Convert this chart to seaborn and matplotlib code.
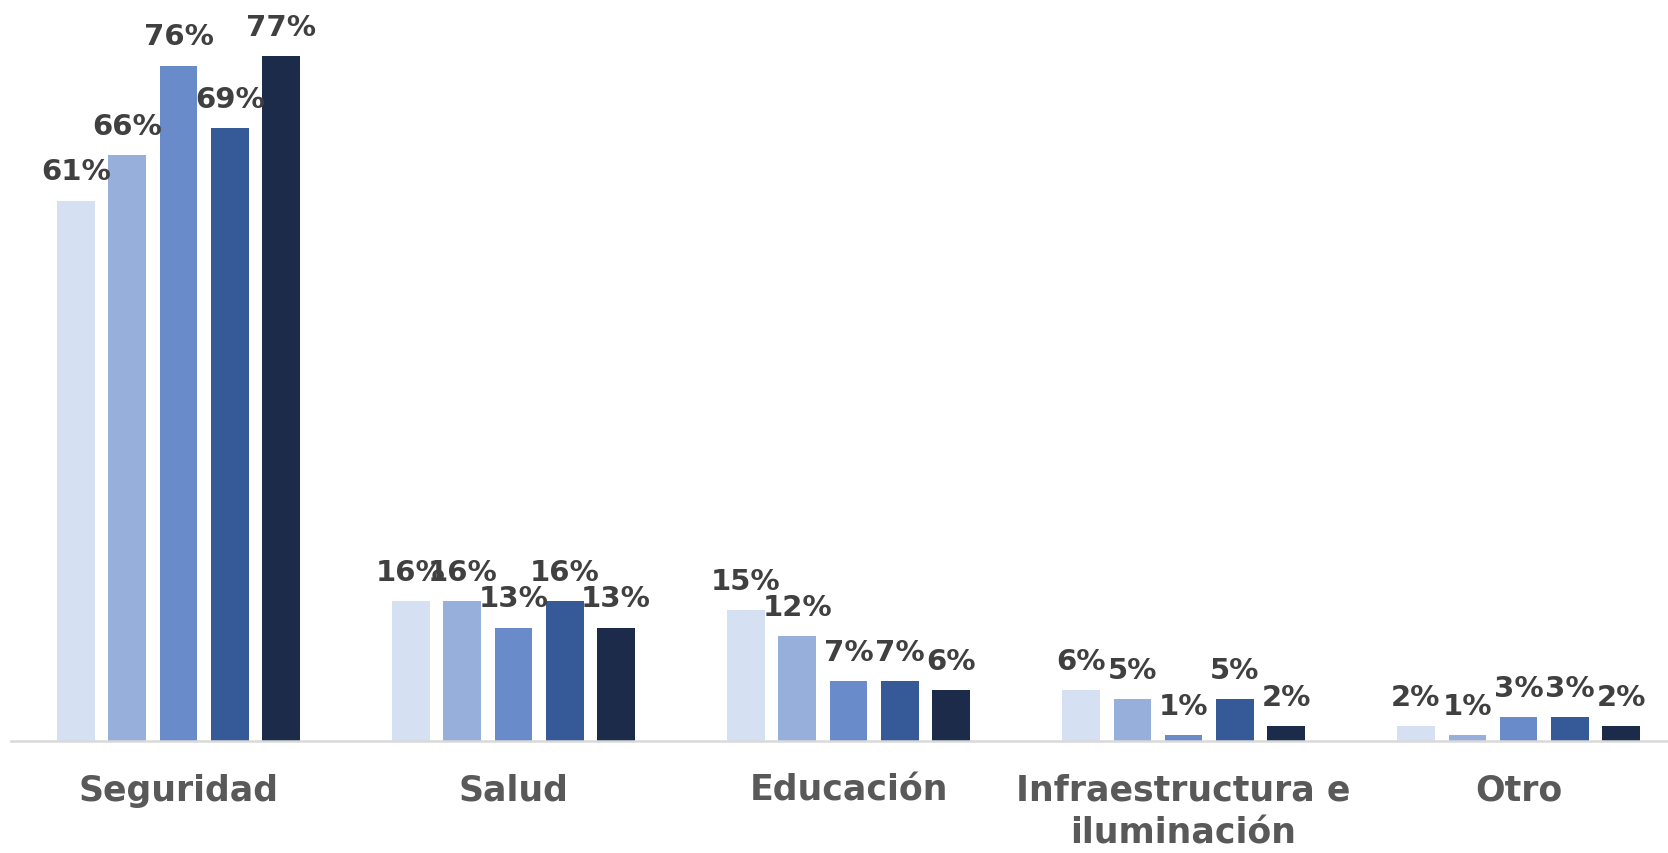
import numpy as np
import pandas as pd
import matplotlib
matplotlib.use("Agg")
import matplotlib.pyplot as plt
import seaborn as sns

# Data (in %)
categories = ['Seguridad', 'Salud', 'Educación', 'Infraestructura e\niluminación', 'Otro']
series = ['Serie 1', 'Serie 2', 'Serie 3', 'Serie 4', 'Serie 5']
serie_1 = [60.8, 15.75, 14.7, 5.7, 1.65]
serie_2 = [65.9, 15.75, 11.8, 4.7, 0.64]
serie_3 = [76.0, 12.75, 6.7, 0.64, 2.67]
serie_4 = [69.0, 15.75, 6.7, 4.7, 2.67]
serie_5 = [77.05, 12.75, 5.7, 1.65, 1.65]
colors = ['#D5E1F3', '#97AFDB', '#6A8BC9', '#365A98', '#1C2B4A']

values = [serie_1, serie_2, serie_3, serie_4, serie_5]
rows = []
for s, vals in zip(series, values):
    for c, v in zip(categories, vals):
        rows.append({'categoria': c, 'serie': s, 'valor': v})
df = pd.DataFrame(rows)

sns.set_style('white')
plt.rcParams['font.family'] = ['DejaVu Sans']

fig = plt.figure(figsize=(16.68, 8.54), dpi=100)
ax = fig.add_axes([11 / 1668, 112 / 854, 1 - 11 / 1668, 742 / 854])

sns.barplot(data=df, x='categoria', y='valor', hue='serie', order=categories,
            hue_order=series, palette=colors, saturation=1, width=0.766, gap=0.27,
            linewidth=0, legend=False, ax=ax, errorbar=None)

# etiquetas de valor sobre cada barra
for cont in ax.containers:
    ax.bar_label(cont, labels=[f'{v:.0f}%' for v in cont.datavalues],
                 padding=11, fontsize=21, fontweight='bold', color='#404040')

ax.set_xlim(-0.5, 4.446)
ax.set_ylim(0, 83.5)
ax.set_xlabel('')
ax.set_ylabel('')
ax.set_yticks([])
ax.tick_params(axis='x', length=0, pad=23)
for lbl in ax.get_xticklabels():
    lbl.set_fontsize(25)
    lbl.set_fontweight('bold')
    lbl.set_color('#595959')
    lbl.set_linespacing(1.3)

for side in ['top', 'left', 'right']:
    ax.spines[side].set_visible(False)
ax.spines['bottom'].set_color('#D9D9D9')
ax.spines['bottom'].set_linewidth(1.8)

fig.savefig('out.png', dpi=100)
